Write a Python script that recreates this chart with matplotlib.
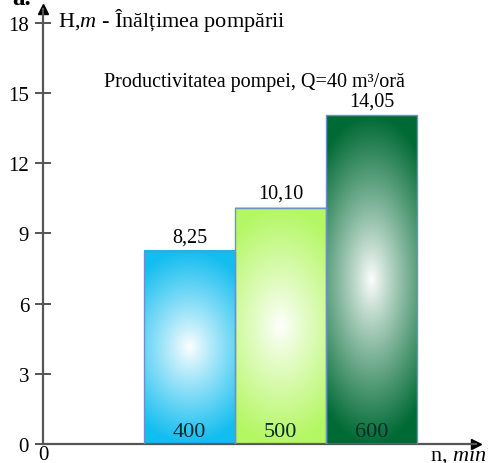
import numpy as np
import matplotlib.pyplot as plt
from matplotlib.patches import Rectangle
from matplotlib.colors import to_rgb

# turatia pompei si inaltimea de pompare
turatii = ['400', '500', '600']
inaltimi = [8.25, 10.10, 14.05]
etichete = ['8,25', '10,10', '14,05']
culori = ['#12bdf0', '#b4f764', '#006a34']
y_ticks = [0, 3, 6, 9, 12, 15, 18]

plt.rcParams['font.family'] = 'Liberation Serif'
plt.rcParams['mathtext.fontset'] = 'custom'
plt.rcParams['mathtext.rm'] = 'Liberation Serif'
plt.rcParams['mathtext.it'] = 'Liberation Serif:italic'

px_unit = 23.4  # pixeli pe unitate pe axa verticala
fig = plt.figure(figsize=(4.89, 4.64), dpi=100)
ax = fig.add_axes([43 / 489, 19 / 464, 433 / 489, 435 / 464])
ax.set_xlim(0, 433 / 91)
ax.set_ylim(0, 435 / px_unit)

ax_col = '#555555'
for s in ['top', 'right']:
    ax.spines[s].set_visible(False)
for s in ['left', 'bottom']:
    ax.spines[s].set_color(ax_col)
    ax.spines[s].set_linewidth(1.6)
ax.plot(1, 0, '>', color='black', ms=7, transform=ax.transAxes, clip_on=False)
ax.plot(0, 1, '^', color='black', ms=7, transform=ax.transAxes, clip_on=False)

ax.set_yticks(y_ticks)
ax.tick_params(axis='y', direction='inout', length=12, width=1.4, color=ax_col,
               labelsize=15, pad=4)
ax.set_xticks([0])
ax.set_xticklabels(['0'])
ax.tick_params(axis='x', length=0, labelsize=15, pad=1)

# bare cu gradient radial (alb in centru)
latime = 1.0
start = 1.11
for i, (h, c) in enumerate(zip(inaltimi, culori)):
    x0 = start + i * latime
    ny, nx = 300, 100
    xx, yy = np.meshgrid(np.linspace(-1, 1, nx), np.linspace(0, 1, ny))
    u = xx * 0.6
    v = (yy - 0.5) / 0.5
    r = np.clip(np.sqrt(u ** 2 + v ** 2), 0, 1) ** 0.9
    rgb = np.array(to_rgb(c))
    img = (1 - r[..., None]) * np.ones(3) + r[..., None] * rgb
    ax.imshow(img, extent=(x0, x0 + latime, 0, h), origin='lower',
              aspect='auto', zorder=2, interpolation='bilinear')
    ax.add_patch(Rectangle((x0, 0), latime, h, fill=False,
                           edgecolor='#6d8fcc', lw=1.0, zorder=3))
    ax.text(x0 + latime / 2, h + 0.2, etichete[i], ha='center', va='bottom',
            fontsize=14.5, zorder=4)
    ax.text(x0 + latime / 2, 0.12, turatii[i], ha='center', va='bottom',
            fontsize=16, color='#0d2a2a', zorder=4)

ax.text(0.165, 18.15, r'H,$\mathit{m}$ - Înălțimea pompării', fontsize=16,
        va='center', ha='left', clip_on=False)
ax.text(2.32, 15.5, 'Productivitatea pompei, Q=40 m³/oră', fontsize=14.5,
        va='center', ha='center')
fig.text(430 / 489, 3 / 464, r'n, $\mathit{min}^{-1}$', fontsize=16,
         va='baseline', ha='left')
fig.text(12 / 489, 1 - 5 / 464, 'a.', fontsize=18, weight='bold',
         va='baseline', ha='left')

fig.savefig('out.png', dpi=100)
